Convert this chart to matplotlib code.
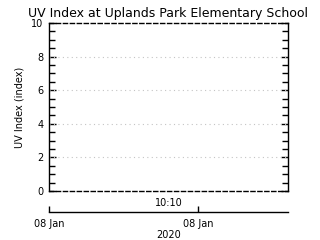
""" UV index chart, IDL-like style. """

import matplotlib
matplotlib.use('Agg')
import matplotlib.pyplot as plt
from matplotlib.ticker import MultipleLocator

title = "UV Index at Uplands Park Elementary School"
y_label = "UV Index (index)"
y_ticks = [0, 2, 4, 6, 8, 10]
time_label = "10:10"
date_ticks = [0.0, 0.623]
date_labels = ["08 Jan", "08 Jan"]
year_label = "2020"

plt.rcParams['font.family'] = ['DejaVu Sans']

fig = plt.figure(figsize=(3.2, 2.4), dpi=100)

# main plot box
ax = fig.add_axes([49 / 320, 1 - 191 / 240, 239 / 320, 168 / 240])
ax.set_xlim(0, 1)
ax.set_ylim(y_ticks[0], y_ticks[-1])
ax.set_yticks(y_ticks)
ax.set_yticklabels([str(v) for v in y_ticks], fontsize=7)
ax.yaxis.set_minor_locator(MultipleLocator(0.5))
ax.tick_params(axis='y', which='both', direction='in', left=True, right=True, pad=4)
ax.tick_params(axis='y', which='major', length=5, width=1)
ax.tick_params(axis='y', which='minor', length=4, width=1)
ax.set_xticks([])
for v in y_ticks[1:-1]:
    ax.axhline(v, color='#c4c4c4', linestyle=(0, (1, 3)), linewidth=0.8)
for side in ['top', 'bottom']:
    ax.spines[side].set_linestyle((0, (3, 2)))
    ax.spines[side].set_linewidth(1)
for side in ['left', 'right']:
    ax.spines[side].set_linewidth(1)
ax.set_ylabel(y_label, fontsize=7, labelpad=5)
ax.set_xlabel(time_label, fontsize=7, labelpad=5)
ax.set_title(title, fontsize=9, pad=4)

# date axis below
ax2 = fig.add_axes([49 / 320, 1 - 212 / 240, 239 / 320, 0.001])
ax2.set_xlim(0, 1)
ax2.set_yticks([])
for side in ['top', 'left', 'right']:
    ax2.spines[side].set_visible(False)
ax2.spines['bottom'].set_linewidth(1)
ax2.patch.set_visible(False)
ax2.set_xticks(date_ticks)
ax2.set_xticklabels(date_labels, fontsize=7)
ax2.tick_params(axis='x', direction='in', length=4, width=1, pad=5)
ax2.set_xlabel(year_label, fontsize=7, labelpad=1)

fig.savefig('out.png', dpi=100)
